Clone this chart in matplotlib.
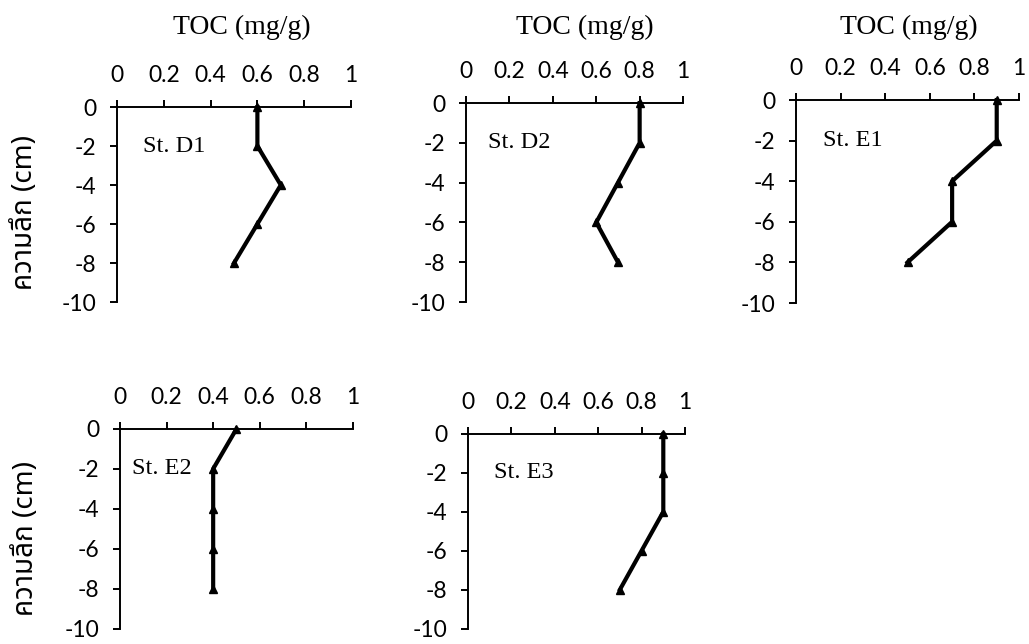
import matplotlib
matplotlib.use('Agg')
import matplotlib.pyplot as plt
import numpy as np

# depth below surface (cm) and TOC (mg/g) per station
depth = [0, -2, -4, -6, -8]
toc_d1 = [0.6, 0.6, 0.7, 0.6, 0.5]
toc_d2 = [0.8, 0.8, 0.7, 0.6, 0.7]
toc_e1 = [0.9, 0.9, 0.7, 0.7, 0.5]
toc_e2 = [0.5, 0.4, 0.4, 0.4, 0.4]
toc_e3 = [0.9, 0.9, 0.9, 0.8, 0.7]
stations = ['St. D1', 'St. D2', 'St. E1', 'St. E2', 'St. E3']
x_ticks = [0, 0.2, 0.4, 0.6, 0.8, 1]
y_ticks = [0, -2, -4, -6, -8, -10]

TICK_FONT = ['Lato', 'DejaVu Sans']
SERIF = ['Liberation Serif', 'DejaVu Serif']
THAI = ['Noto Sans Thai', 'Noto Sans', 'DejaVu Sans', 'Liberation Sans']

fig = plt.figure(figsize=(10.29, 6.44), dpi=100)

# [left, bottom, width, height] in figure fraction
boxes = [
    [0.1137, 0.531, 0.2274, 0.3028],
    [0.4529, 0.531, 0.2109, 0.309],
    [0.7736, 0.5295, 0.2167, 0.3152],
    [0.1166, 0.024, 0.2264, 0.3100],
    [0.4548, 0.024, 0.2109, 0.3022],
]
label_x = [0.11, 0.10, 0.12, 0.05, 0.12]
series = [toc_d1, toc_d2, toc_e1, toc_e2, toc_e3]

for box, name, vals, lx in zip(boxes, stations, series, label_x):
    ax = fig.add_axes(box)
    ax.plot(vals, depth, color='black', linewidth=3, marker='^',
            markersize=6, clip_on=False)
    ax.set_xlim(0, 1)
    ax.set_ylim(-10, 0)
    ax.spines['bottom'].set_visible(False)
    ax.spines['right'].set_visible(False)
    ax.spines['top'].set_linewidth(1.4)
    ax.spines['left'].set_linewidth(1.4)
    ax.xaxis.tick_top()
    ax.set_xticks(x_ticks)
    ax.set_xticklabels(['0', '0.2', '0.4', '0.6', '0.8', '1'])
    ax.set_yticks(y_ticks)
    ax.set_yticklabels(['0', '-2', '-4', '-6', '-8', '-10'])
    ax.tick_params(axis='both', length=5, width=1.4, direction='out',
                   labelsize=16.5, pad=10, color='black')
    for lab in ax.get_xticklabels() + ax.get_yticklabels():
        lab.set_family(TICK_FONT)
    ax.text(lx, -2, name, fontsize=17.5, family=SERIF, va='center', ha='left')

# TOC titles above the top row
for cx in [242, 585, 909]:
    fig.text(cx / 1029, 1 - 27 / 644, 'TOC (mg/g)', fontsize=20, family=SERIF,
             ha='center', va='center')

# depth labels for each row
for cx, cy in [(25, 212), (26, 538)]:
    fig.text(cx / 1029, 1 - cy / 644, 'ความลึก (cm)', fontsize=20, family=THAI,
             rotation=90, ha='center', va='center')

fig.savefig('out.png', dpi=100)
